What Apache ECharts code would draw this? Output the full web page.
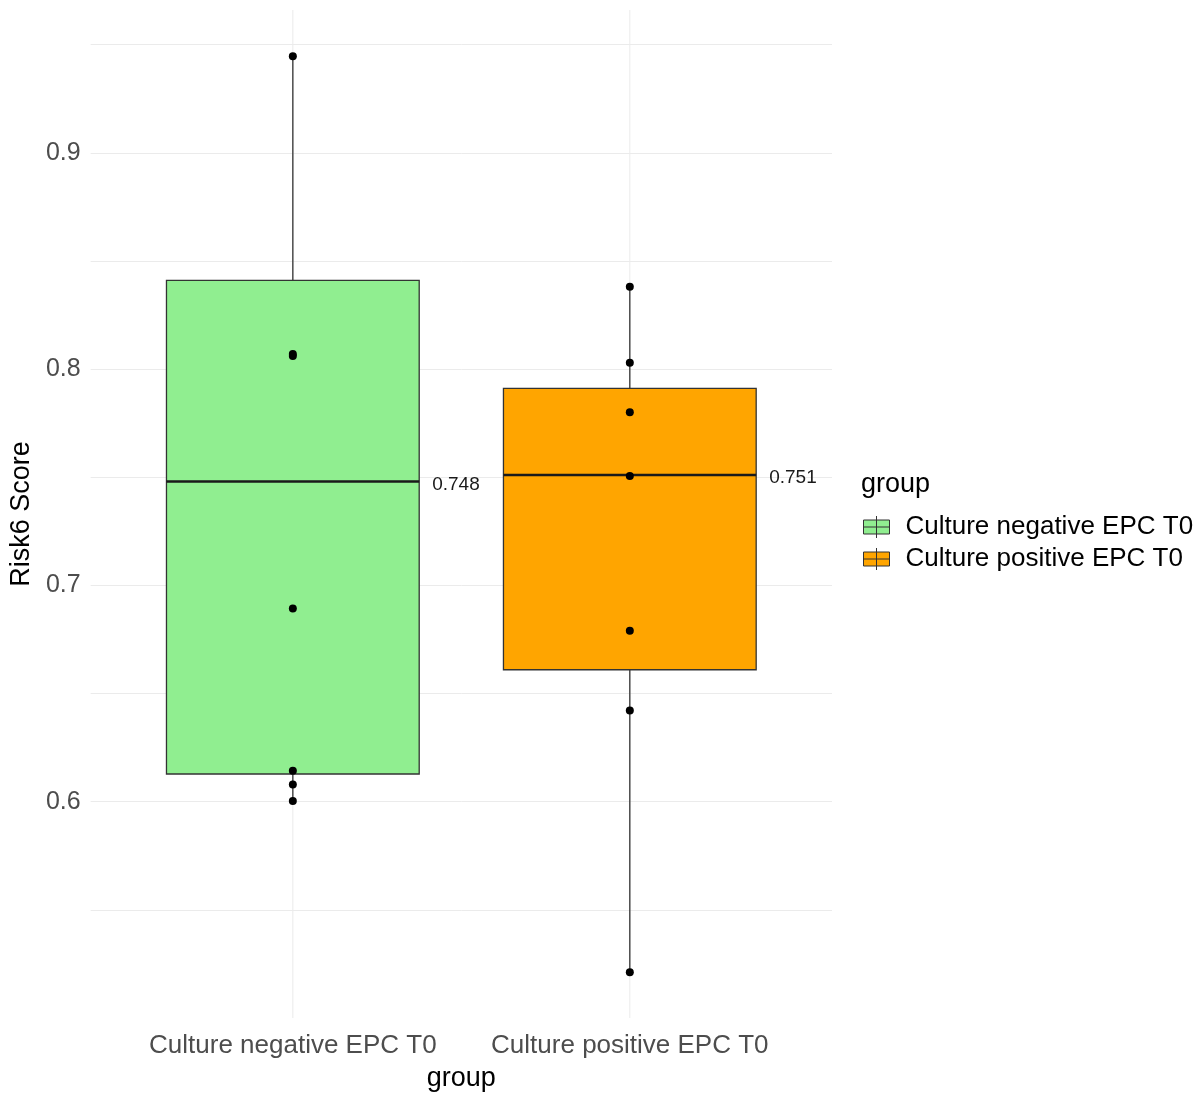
<!DOCTYPE html>
<html>
<head>
<meta charset="utf-8">
<script src="https://cdn.jsdelivr.net/npm/echarts@6/dist/echarts.min.js"></script>
<style>
html,body{margin:0;padding:0;background:#fff;}
#chart{width:1201px;height:1097px;}
</style>
</head>
<body>
<div id="chart"></div>
<script>
// ---- data ----
var categories = ['Culture negative EPC T0', 'Culture positive EPC T0'];
var categoryPositions = [1, 2];
var colors = ['#90EE90', '#FFA500'];
// box statistics: [min, Q1, median, Q3, max]
var negStats = [0.6003, 0.6128, 0.748, 0.841, 0.9446];
var posStats = [0.5211, 0.6610, 0.751, 0.7911, 0.8381];
var medianLabels = ['0.748', '0.751'];
// individual points
var negPoints = [0.9446, 0.807, 0.806, 0.6893, 0.6143, 0.6079, 0.6003];
var posPoints = [0.8381, 0.8029, 0.7800, 0.7506, 0.6790, 0.6422, 0.5211];
var yTickLabels = ['0.6', '0.7', '0.8', '0.9'];
var xTitle = 'group';
var yTitle = 'Risk6 Score';
var legendTitle = 'group';

var FONT = '"Liberation Sans", Arial, sans-serif';
var allStats = [negStats, posStats];
var allPoints = [negPoints, posPoints];

function renderBox(params, api) {
  var x = api.value(0);
  var mn = api.value(1), q1 = api.value(2), md = api.value(3), q3 = api.value(4), mx = api.value(5);
  var idx = params.seriesIndex;
  var cs = params.coordSys;
  var w = api.size([0.75, 0])[0];
  var pMin = api.coord([x, mn]), pQ1 = api.coord([x, q1]), pMd = api.coord([x, md]);
  var pQ3 = api.coord([x, q3]), pMax = api.coord([x, mx]);
  var lineStyle = {stroke: '#333', lineWidth: 1.3};
  return {
    type: 'group',
    children: [
      // vertical major grid line at the category position
      {type: 'line', z2: -10, shape: {x1: pMd[0], y1: cs.y, x2: pMd[0], y2: cs.y + cs.height},
        style: {stroke: '#ebebeb', lineWidth: 1}},
      {type: 'line', shape: {x1: pMax[0], y1: pMax[1], x2: pQ3[0], y2: pQ3[1]}, style: lineStyle},
      {type: 'line', shape: {x1: pQ1[0], y1: pQ1[1], x2: pMin[0], y2: pMin[1]}, style: lineStyle},
      {type: 'rect', shape: {x: pQ3[0] - w / 2, y: pQ3[1], width: w, height: pQ1[1] - pQ3[1]},
        style: {fill: colors[idx], stroke: '#333', lineWidth: 1.3}},
      {type: 'line', shape: {x1: pMd[0] - w / 2, y1: pMd[1], x2: pMd[0] + w / 2, y2: pMd[1]},
        style: {stroke: '#1a1a1a', lineWidth: 2.6}},
      {type: 'text', x: pMd[0] + w / 2 + 13, y: pMd[1] + 3,
        style: {text: medianLabels[idx], fill: '#1a1a1a', font: '19px ' + FONT,
          textAlign: 'left', textVerticalAlign: 'middle'}}
    ]
  };
}

var series = [];
categories.forEach(function (name, i) {
  series.push({
    name: name,
    type: 'custom',
    renderItem: renderBox,
    encode: {x: 0, y: [1, 2, 3, 4, 5]},
    itemStyle: {color: colors[i], borderColor: '#333'},
    data: [[categoryPositions[i]].concat(allStats[i])],
    z: 2
  });
});
categories.forEach(function (name, i) {
  series.push({
    name: name + ' points',
    type: 'scatter',
    symbol: 'circle',
    symbolSize: 8,
    itemStyle: {color: '#000', opacity: 1},
    data: allPoints[i].map(function (v) { return [categoryPositions[i], v]; }),
    z: 5
  });
});

var chart = echarts.init(document.getElementById('chart'), null, {renderer: 'canvas'});
chart.setOption({
  animation: false,
  backgroundColor: '#fff',
  title: [{
    text: legendTitle, left: 856, top: 466,
    textStyle: {fontFamily: FONT, fontSize: 27, fontWeight: 'normal', color: '#000'}
  }],
  legend: {
    data: categories,
    orient: 'vertical',
    left: 858, top: 509,
    itemWidth: 26, itemHeight: 22, itemGap: 6,
    icon: 'path://M0,4 L26,4 L26,18 L0,18 Z M13,0 L13,22 M0,11 L26,11',
    itemStyle: {borderColor: '#333', borderWidth: 1},
    textStyle: {fontFamily: FONT, fontSize: 26, color: '#000', padding: [0, 0, 0, 11]}
  },
  grid: {left: 89.5, right: 369, top: 10, bottom: 71.5, containLabel: false},
  xAxis: {
    type: 'value', min: 0.4, max: 2.6,
    name: xTitle, nameLocation: 'middle', nameGap: 47,
    nameTextStyle: {fontFamily: FONT, fontSize: 27, color: '#000'},
    axisLine: {show: false},
    axisTick: {show: false, customValues: categoryPositions},
    axisLabel: {customValues: categoryPositions, margin: 15,
      fontFamily: FONT, fontSize: 26, color: '#4d4d4d',
      formatter: function (v) { return categories[Math.round(v) - 1] || ''; }},
    splitLine: {show: false}
  },
  yAxis: {
    type: 'value', min: 0.5, max: 0.966, interval: 0.05,
    name: yTitle, nameLocation: 'middle', nameRotate: 90, nameGap: 47,
    nameTextStyle: {fontFamily: FONT, fontSize: 27, color: '#000'},
    axisLine: {show: false}, axisTick: {show: false},
    axisLabel: {margin: 10, fontFamily: FONT, fontSize: 25, color: '#4d4d4d',
      formatter: function (v) {
        for (var k = 0; k < yTickLabels.length; k++) {
          if (Math.abs(v - parseFloat(yTickLabels[k])) < 1e-6) return yTickLabels[k];
        }
        return '';
      }},
    splitLine: {show: true, showMinLine: false, showMaxLine: false, lineStyle: {color: '#ebebeb', width: 1}}
  },
  series: series
});
</script>
</body>
</html>
